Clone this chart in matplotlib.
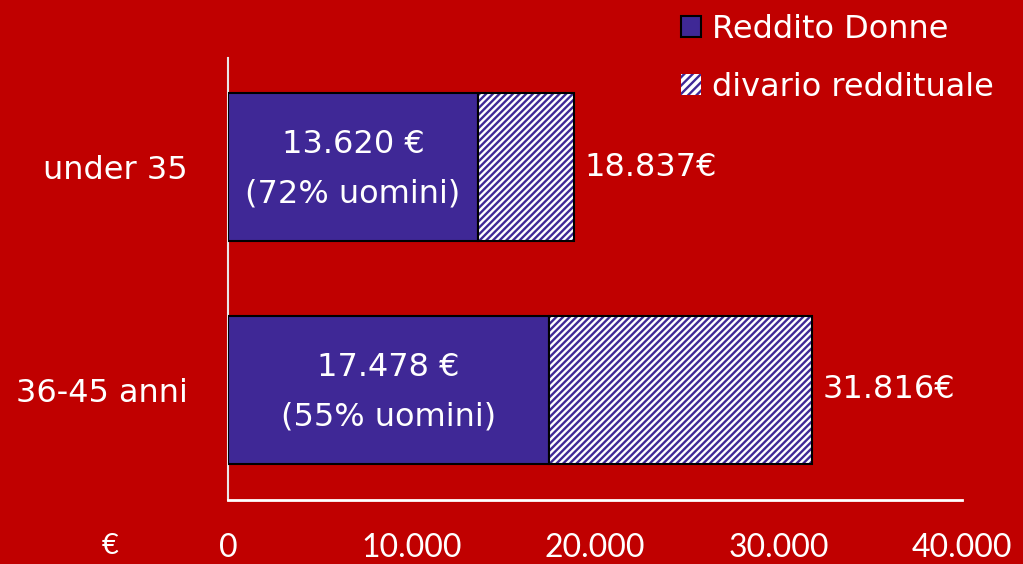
import matplotlib
matplotlib.use("Agg")
import matplotlib.pyplot as plt
from matplotlib.patches import Patch

categories = ["36-45 anni", "under 35"]
women = [17478, 13620]
totals = [31816, 18837]
pct_men = [55, 72]
women_labels = ["17.478 €", "13.620 €"]
total_labels = ["31.816€", "18.837€"]
xticks = [0, 10000, 20000, 30000, 40000]
xtick_labels = ["0", "10.000", "20.000", "30.000", "40.000"]
legend_labels = ["Reddito Donne", "divario reddituale"]

RED = "#C00000"
PURPLE = "#3F2896"
plt.rcParams["font.family"] = ["DejaVu Sans"]
plt.rcParams["hatch.linewidth"] = 1.7
FS = 23

fig = plt.figure(figsize=(10.23, 5.64), dpi=100, facecolor=RED)
ax = fig.add_axes([0.2229, 0.1135, 0.7175, 0.7837])
ax.set_facecolor(RED)

ypos = list(range(len(categories)))
h = 0.664
gaps = [t - w for t, w in zip(totals, women)]
ax.barh(ypos, women, height=h, color=PURPLE, edgecolor="black", linewidth=1.5, zorder=3)
ax.barh(ypos, gaps, left=women, height=h, color="white", edgecolor=PURPLE, hatch="/////",
        linewidth=0, zorder=3)
ax.barh(ypos, gaps, left=women, height=h, fill=False, edgecolor="black", linewidth=1.5, zorder=4)

for y, w, wl, p, t, tl in zip(ypos, women, women_labels, pct_men, totals, total_labels):
    ax.text(w / 2, y - 0.01, f"{wl}\n({p}% uomini)", ha="center", va="center", color="white",
            fontsize=FS, linespacing=1.75, zorder=5)
    ax.text(t + 600, y, tl, ha="left", va="center", color="white", fontsize=FS, zorder=5)

ax.set_xlim(0, 40000)
ax.set_ylim(-0.4933, 1.489)
ax.set_xticks(xticks)
ax.set_xticklabels(xtick_labels, family="Lato")
ax.set_yticks(ypos)
ax.set_yticklabels(categories)
ax.tick_params(axis="x", length=0, pad=24, labelsize=23, labelcolor="white")
ax.tick_params(axis="y", length=0, pad=29, labelsize=FS, labelcolor="white")
for s in ["top", "right"]:
    ax.spines[s].set_visible(False)
ax.spines["left"].set_color("#E8E8E8")
ax.spines["left"].set_linewidth(1.5)
ax.spines["bottom"].set_color("white")
ax.spines["bottom"].set_linewidth(2)

fig.text(110 / 1023, 1 - 546 / 564, "€", ha="center", va="center", color="white",
         fontsize=21, family="Lato")

handles = [Patch(facecolor=PURPLE, edgecolor="black", linewidth=1.5),
           Patch(facecolor="white", edgecolor=PURPLE, hatch="////", linewidth=0)]
leg = fig.legend(handles, legend_labels, loc="upper left", bbox_to_anchor=(652 / 1023, 1.0 + 0.027),
                 frameon=False, fontsize=FS, labelcolor="white", handlelength=0.62,
                 handleheight=0.62, handletextpad=0.35, labelspacing=0.85)

fig.savefig("out.png", dpi=100, facecolor=RED)
